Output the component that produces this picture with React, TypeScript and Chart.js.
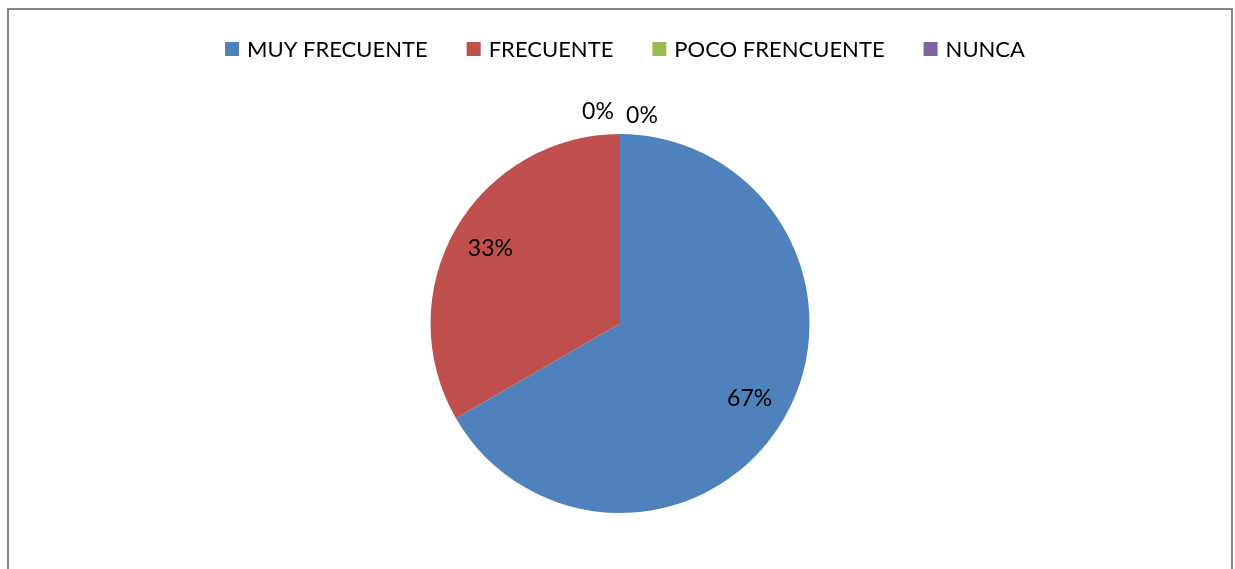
import React, { useEffect, useRef } from "react";
import { Chart, registerables } from "chart.js";

Chart.register(...registerables);

const categories = ["MUY FRECUENTE", "FRECUENTE", "POCO FRENCUENTE", "NUNCA"];
const values = [2, 1, 0, 0];
const colors = ["#4F81BD", "#C0504D", "#9BBB59", "#8064A2"];

const FONT = "Lato";
const LEGEND_SIZE = 22;
const LABEL_SIZE = 23;

const legendPlugin = {
  id: "customLegend",
  afterDraw(chart: any) {
    const ctx = chart.ctx;
    const labels: string[] = chart.data.labels;
    const bg: string[] = chart.data.datasets[0].backgroundColor;
    const box = 14;
    const gap = 8;
    const spacing = 39;
    const cy = 39;
    ctx.save();
    ctx.font = `${LEGEND_SIZE}px ${FONT}`;
    const widths = labels.map((l) => ctx.measureText(l).width);
    const total =
      widths.reduce((a, w) => a + box + gap + w, 0) + spacing * (labels.length - 1);
    let x = chart.width / 2 - total / 2 + 5;
    ctx.textBaseline = "middle";
    ctx.textAlign = "left";
    labels.forEach((l, i) => {
      ctx.fillStyle = bg[i];
      ctx.fillRect(x, cy - box / 2, box, box);
      ctx.fillStyle = "#000";
      ctx.fillText(l, x + box + gap, cy + 1);
      x += box + gap + widths[i] + spacing;
    });
    ctx.restore();
  },
};

const labelPlugin = {
  id: "pctLabels",
  afterDatasetsDraw(chart: any) {
    const ctx = chart.ctx;
    const meta = chart.getDatasetMeta(0);
    const data: number[] = chart.data.datasets[0].data;
    const total = data.reduce((a, b) => a + b, 0);
    ctx.save();
    ctx.font = `${LABEL_SIZE}px ${FONT}`;
    ctx.fillStyle = "#000";
    ctx.textAlign = "center";
    ctx.textBaseline = "middle";
    const zeros = data.map((v, i) => (v === 0 ? i : -1)).filter((i) => i >= 0);
    meta.data.forEach((arc: any, i: number) => {
      const { x, y, startAngle, endAngle, outerRadius } = arc.getProps(
        ["x", "y", "startAngle", "endAngle", "outerRadius"],
        true
      );
      const mid = (startAngle + endAngle) / 2;
      const pct = Math.round((data[i] / total) * 100) + "%";
      if (data[i] > 0) {
        const rr = outerRadius * 0.79;
        ctx.fillText(pct, x + Math.cos(mid) * rr, y + Math.sin(mid) * rr);
      } else {
        const k = zeros.indexOf(i);
        const rr = outerRadius + 22;
        const bx = x + Math.cos(mid) * rr;
        const by = y + Math.sin(mid) * rr;
        const dx = (k - (zeros.length - 1) / 2) * 44;
        ctx.fillText(pct, bx + dx, by + k * 3.5);
      }
    });
    ctx.restore();
  },
};

export default function App() {
  const ref = useRef<HTMLCanvasElement | null>(null);
  useEffect(() => {
    if (!ref.current) return;
    const chart = new Chart(ref.current, {
      type: "pie",
      data: {
        labels: categories,
        datasets: [
          {
            data: values,
            backgroundColor: colors,
            borderColor: "#ffffff",
            borderWidth: 0,
          },
        ],
      },
      options: {
        animation: false,
        responsive: true,
        maintainAspectRatio: false,
        layout: { padding: { top: 124, bottom: 57, left: 0, right: 0 } },
        plugins: {
          legend: { display: false },
          tooltip: { enabled: false },
        },
      },
      plugins: [legendPlugin, labelPlugin],
    });
    return () => chart.destroy();
  }, []);

  return (
    <div
      style={{
        position: "fixed",
        left: 7,
        top: 8,
        width: 1226,
        height: 620,
        boxSizing: "border-box",
        border: "2px solid #878787",
        background: "#fff",
      }}
    >
      <div style={{ position: "relative", width: 1222, height: 560 }}>
        <canvas ref={ref} />
      </div>
    </div>
  );
}
